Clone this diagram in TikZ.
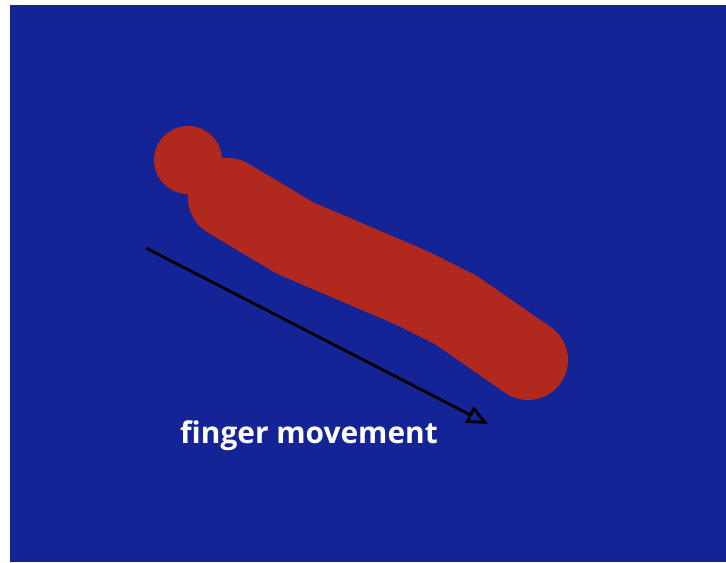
\documentclass[tikz,border=0pt]{standalone}
\usepackage{fontspec}
\setsansfont{Open Sans}
\usetikzlibrary{arrows.meta,positioning}
\definecolor{padblue}{RGB}{20,35,150}
\definecolor{inkred}{RGB}{176,40,30}
\tikzset{
  x=0.02cm, y=-0.02cm,
  >={Triangle[open,length=4.2mm,width=3.6mm]},
  stroke/.style={draw=inkred, line width=1.6cm, line cap=round, line join=round},
  dot/.style={circle, fill=inkred, minimum size=1.36cm, inner sep=0pt},
  motion/.style={->, line width=1.6pt, black},
  caption/.style={font=\sffamily\bfseries\fontsize{17}{20}\selectfont, text=white, inner sep=0pt},
}
\begin{document}
\begin{tikzpicture}
  \useasboundingbox (0,0) rectangle (726,562);
  \fill[padblue] (10,5) rectangle (726,562);

  % touch trace
  \node[dot] (tap) at (188,160) {};
  \draw[stroke] (228,198) -- (295,238) -- (412,288) -- (456,310) -- (528,360);

  % movement arrow
  \coordinate (from) at (146,248);
  \coordinate (to) at (488,424);
  \draw[motion] (from) -- (to);
  \node[caption] (label) at (309,436) {finger movement};
\end{tikzpicture}
\end{document}
